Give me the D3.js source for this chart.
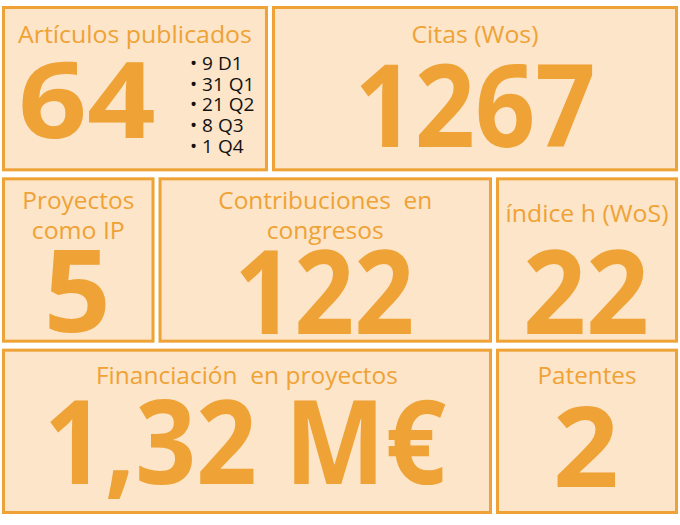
<!DOCTYPE html>
<html>
<head>
<meta charset="utf-8">
<script src="https://cdn.jsdelivr.net/npm/d3@7"></script>
<style>
  body { margin: 0; background: #fff; }
  svg { display: block; }
</style>
</head>
<body>
<div id="chart"></div>
<script>
// 指标数据
const tileTitles = [
  ['Artículos publicados'],
  ['Citas (Wos)'],
  ['Proyectos', 'como IP'],
  ['Contribuciones  en', 'congresos'],
  ['índice h (WoS)'],
  ['Financiación  en proyectos'],
  ['Patentes']
];
const tileValues = ['64', '1267', '5', '122', '22', '1,32 M€', '2'];
const articleCounts = [9, 31, 21, 8, 1];
const articleQuartiles = ['D1', 'Q1', 'Q2', 'Q3', 'Q4'];

// 布局（行、列区间、文字偏移）
const tileLayout = [
  { row: 0, c0: 0,      c1: 0.3964, titleY: 37, titleW: [232],      numY: 132, numDx: -48, numCap: 75, numW: 130 },
  { row: 0, c0: 0.3964, c1: 1,      titleY: 37, titleW: [125],      numY: 141, numDx: 0,   numCap: 82, numW: 233 },
  { row: 1, c0: 0,      c1: 0.2286, titleY: 32, titleW: [110, 91],  numY: 155, numDx: -1,  numCap: 82, numW: 59 },
  { row: 1, c0: 0.2286, c1: 0.7278, titleY: 32, titleW: [212, 115], numY: 157, numDx: -1,  numCap: 83, numW: 172 },
  { row: 1, c0: 0.7278, c1: 1,      titleY: 45, titleW: [161],      numY: 157, numDx: -1,  numCap: 83, numW: 118 },
  { row: 2, c0: 0,      c1: 0.7278, titleY: 35, titleW: [300],      numY: 135, numDx: -2,  numCap: 83, numW: 394 },
  { row: 2, c0: 0.7278, c1: 1,      titleY: 35, titleW: [97],       numY: 138, numDx: -1,  numCap: 80, numW: 58 }
];

const width = 680;
const height = 525;
const gap = 4;
const stroke = 3;
const orange = '#EFA235';
const fill = '#FCE5C9';
const capRatio = 0.714;
const titleSize = 24;
const lineGap = 30;

const x = d3.scaleLinear().domain([0, 1]).range([2, 678]);
const y = d3.scaleBand().domain([0, 1, 2]).range([6, 514]).paddingInner(0.035);

const svg = d3.select('#chart')
  .append('svg')
  .attr('width', width)
  .attr('height', height);

const tiles = tileLayout.map((l, i) => {
  const x0 = x(l.c0) + (l.c0 > 0 ? gap / 2 : 0);
  const x1 = x(l.c1) - (l.c1 < 1 ? gap / 2 : 0);
  return { ...l, i, x0, x1, y0: y(l.row), cx: (x0 + x1) / 2 };
});

const g = svg.selectAll('.tile')
  .data(tiles)
  .enter()
  .append('g')
  .attr('class', 'tile');

// 方框
g.append('rect')
  .attr('x', d => d.x0 + stroke / 2)
  .attr('y', d => d.y0 + stroke / 2)
  .attr('width', d => d.x1 - d.x0 - stroke)
  .attr('height', y.bandwidth() - stroke)
  .attr('fill', fill)
  .attr('stroke', orange)
  .attr('stroke-width', stroke);

// 标题
g.each(function (d) {
  d3.select(this).selectAll('.title')
    .data(tileTitles[d.i])
    .enter()
    .append('text')
    .attr('class', 'title')
    .attr('x', d.cx)
    .attr('y', (t, j) => d.y0 + d.titleY + j * lineGap)
    .attr('text-anchor', 'middle')
    .attr('font-family', '"Open Sans", sans-serif')
    .attr('font-size', titleSize)
    .attr('fill', orange)
    .attr('textLength', (t, j) => d.titleW[j] + 2)
    .attr('lengthAdjust', 'spacingAndGlyphs')
    .style('white-space', 'pre')
    .text(t => t);
});

// 数值
g.append('text')
  .attr('class', 'value')
  .attr('x', d => d.cx + d.numDx)
  .attr('y', d => d.y0 + d.numY)
  .attr('text-anchor', 'middle')
  .attr('font-family', '"Open Sans", sans-serif')
  .attr('font-weight', 700)
  .attr('font-size', d => d.numCap / capRatio)
  .attr('fill', orange)
  .attr('textLength', d => d.numW + 0.07 * d.numCap / capRatio)
  .attr('lengthAdjust', 'spacingAndGlyphs')
  .text(d => tileValues[d.i]);

// 文章分区列表
const first = tiles[0];
svg.selectAll('.bullet')
  .data(articleCounts)
  .enter()
  .append('text')
  .attr('class', 'bullet')
  .attr('x', first.x0 + 188)
  .attr('y', (v, j) => first.y0 + 64 + j * 20.7)
  .attr('font-family', '"Open Sans", sans-serif')
  .attr('font-size', 19)
  .attr('fill', '#111')
  .text((v, j) => `• ${v} ${articleQuartiles[j]}`);
</script>
</body>
</html>
